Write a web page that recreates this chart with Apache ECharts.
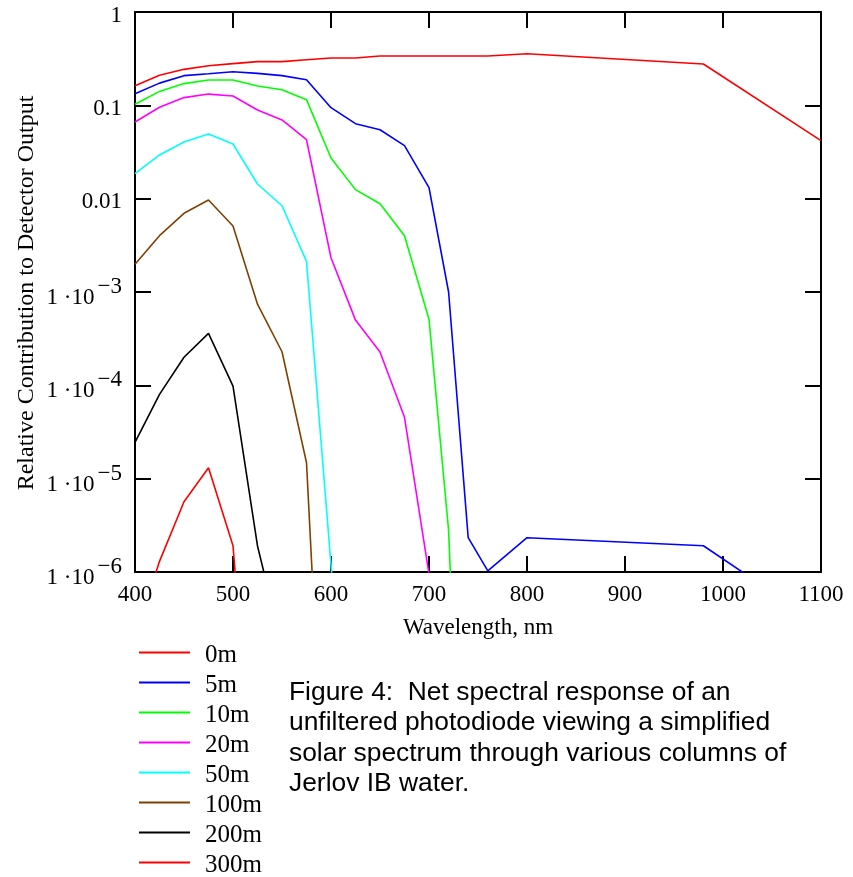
<!DOCTYPE html>
<html><head><meta charset="utf-8">
<script src="https://cdn.jsdelivr.net/npm/echarts@6/dist/echarts.min.js"></script>
<style>html,body{margin:0;padding:0;background:#fff}#c{width:853px;height:877px}</style>
</head><body><div id="c"></div>
<script>
// ---- data ----
const wavelengths = [400,425,450,475,500,525,550,575,600,625,650,675,700,720,740,760,800,980,1100];
const depthNames = ['0m','5m','10m','20m','50m','100m','200m','300m'];
const depth0m   = [0.162,0.21,0.243,0.266,0.28,0.294,0.294,0.308,0.321,0.321,0.338,0.338,0.338,0.338,0.338,0.338,0.357,0.277,0.0418];
const depth5m   = [0.133,0.173,0.208,0.218,0.229,0.220,0.208,0.188,0.0944,0.0636,0.0548,0.037,0.0131,1.0e-3,2.33e-6,1.03e-6,2.33e-6,1.91e-6,2.7e-7];
const depth10m  = [0.1025,0.141,0.171,0.187,0.187,0.161,0.147,0.115,0.0273,0.0125,0.00883,0.00401,5.1e-4,2.8e-6,2e-11,null,null,null,null];
const depth20m  = [0.0663,0.0953,0.121,0.132,0.126,0.089,0.0697,0.0428,0.00233,5.0e-4,2.28e-4,4.54e-5,9.5e-7,1e-10,null,null,null,null,null];
const depth50m  = [0.0185,0.0294,0.0405,0.0493,0.0385,0.01436,0.0084,0.00213,1.2e-6,1e-9,null,null,null,null,null,null,null,null,null];
const depth100m = [1.98e-3,4.01e-3,6.97e-3,9.68e-3,5.1e-3,7.4e-4,2.29e-4,1.48e-5,1.1e-10,null,null,null,null,null,null,null,null,null,null];
const depth200m = [2.45e-5,8e-5,2.0e-4,3.6e-4,9.8e-5,1.9e-6,1.6e-7,null,null,null,null,null,null,null,null,null,null,null,null];
const depth300m = [2e-7,1.3e-6,5.66e-6,1.31e-5,1.91e-6,1e-9,null,null,null,null,null,null,null,null,null,null,null,null,null];
const xTickValues = [400,500,600,700,800,900,1000,1100];
const yTickBase = ['1','0.1','0.01','1 \u00b710','1 \u00b710','1 \u00b710','1 \u00b710'];
const yTickSup  = ['','','','\u22123','\u22124','\u22125','\u22126'];
const xTitle = 'Wavelength, nm';
const yTitle = 'Relative Contribution to Detector Output';
const captionLines = ['Figure 4:  Net spectral response of an','unfiltered photodiode viewing a simplified','solar spectrum through various columns of','Jerlov IB water.'];

// ---- styling ----
const allValues = [depth0m,depth5m,depth10m,depth20m,depth50m,depth100m,depth200m,depth300m];
const colors = ['#ff0000','#0000ff','#00ff00','#ff00ff','#00ffff','#804000','#000000','#ff0000'];
const serif = '"Liberation Serif", "Times New Roman", serif';
const sans = '"Liberation Sans", Arial, sans-serif';

const chart = echarts.init(document.getElementById('c'), null, {renderer:'canvas'});
const axisLine = {show:true, lineStyle:{color:'#000', width:2}};
const tickStyle = {show:true, inside:true, length:16, lineStyle:{color:'#000', width:2}};

const series = depthNames.map((n,k)=>({
  name:n, type:'line', symbol:'none', clip:true,
  lineStyle:{color:colors[k], width:1.6}, itemStyle:{color:colors[k]},
  data: wavelengths.map((w,i)=>[w, allValues[k][i]]),
  xAxisIndex:0, yAxisIndex:0
}));

chart.setOption({
  animation:false,
  grid:{left:135, right:32, top:12, bottom:305, containLabel:false},
  xAxis:[
    {type:'value', min:xTickValues[0], max:xTickValues[xTickValues.length-1], interval:100, position:'bottom',
     axisLine, axisTick:tickStyle, splitLine:{show:false},
     axisLabel:{show:true, margin:11, color:'#000', fontFamily:serif, fontSize:23, formatter:v=>String(v)}},
    {type:'value', min:xTickValues[0], max:xTickValues[xTickValues.length-1], interval:100, position:'top',
     axisLine, axisTick:tickStyle, splitLine:{show:false}, axisLabel:{show:false}}
  ],
  yAxis:[
    {type:'log', logBase:10, min:1e-6, max:1, splitNumber:6, position:'left',
     axisLine, axisTick:tickStyle, splitLine:{show:false}, minorTick:{show:false},
     axisLabel:{show:true, margin:13, color:'#000', fontFamily:serif, fontSize:23,
       formatter:v=>{const e=-Math.round(Math.log10(v)); const b=yTickBase[e]; const s=yTickSup[e];
         return s ? '{b|'+b+'}{s|'+s+'}' : '{p|'+b+'}';},
       rich:{b:{fontFamily:serif,fontSize:23,color:'#000',padding:[12,0,0,0]},
             s:{fontFamily:serif,fontSize:23,color:'#000',padding:[0,0,10,3]},
             p:{fontFamily:serif,fontSize:23,color:'#000',padding:[7,0,0,0]}}}},
    {type:'log', logBase:10, min:1e-6, max:1, splitNumber:6, position:'right',
     axisLine, axisTick:tickStyle, splitLine:{show:false}, axisLabel:{show:false}}
  ],
  legend:{orient:'vertical', left:134, top:638, height:270, itemWidth:51, itemHeight:2, itemGap:5,
    icon:'rect', data:depthNames, formatter:'{a|{name}}',
    textStyle:{fontFamily:serif, fontSize:25, color:'#000',
      rich:{a:{fontFamily:serif, fontSize:25, color:'#000', padding:[6,0,0,10]}}}},
  graphic:[
    {type:'text', x:478, y:628, style:{text:xTitle, font:'23px '+serif, fill:'#000', align:'center', verticalAlign:'middle'}},
    {type:'text', x:27, y:293, rotation:Math.PI/2, style:{text:yTitle, font:'24px '+serif, fill:'#000', align:'center', verticalAlign:'middle'}},
    {type:'text', x:289, y:677, style:{text:captionLines.join('\n'), font:'26.4px '+sans, fill:'#000', lineHeight:30.6, align:'left', verticalAlign:'top'}}
  ],
  series
});
</script></body></html>
